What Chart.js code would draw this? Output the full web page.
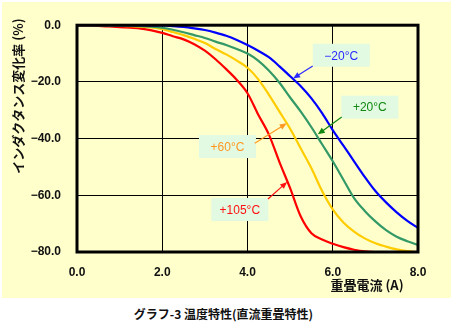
<!DOCTYPE html>
<html lang="ja">
<head>
<meta charset="utf-8">
<title>温度特性(直流重畳特性)</title>
<script src="https://cdn.jsdelivr.net/npm/chart.js@4.4.1/dist/chart.umd.min.js"></script>
<style>
  html, body { margin: 0; padding: 0; background: #fff; }
  body { width: 453px; height: 329px; position: relative; overflow: hidden; }
  #panel { position: absolute; left: 2px; top: 2px; width: 449px; height: 296px; background: #ffffcc; }
  #caption {
    position: absolute; left: 0; width: 447px; top: 305px; text-align: center;
    font: bold 12px "Noto Sans CJK JP", sans-serif; color: #111;
  }
</style>
</head>
<body>
<div id="panel"><canvas id="chart" width="449" height="296"></canvas></div>
<div id="caption">グラフ-3 温度特性(直流重畳特性)</div>
<script>
// superimposed DC current (A) vs. inductance change (%), one curve per temperature
const currentA = [0, 0.25, 0.5, 0.75, 1, 1.25, 1.5, 1.75, 2, 2.25, 2.5, 2.75, 3, 3.25, 3.5, 3.75,
                  4, 4.25, 4.5, 4.75, 5, 5.25, 5.5, 5.75, 6, 6.25, 6.5, 6.75, 7, 7.25, 7.5, 7.75, 8];
const minus20 = [0, 0, 0, 0, 0, 0, 0, -0.05, -0.1, -0.3, -0.6, -1.1, -1.7, -2.6, -3.7, -5.2,
                 -7, -9, -11.3, -14.5, -18, -21.5, -25.8, -31, -37, -42.5, -48, -53.5, -58.5, -62.5, -66, -69, -71.5];
const plus20  = [0, 0, 0, -0.05, -0.1, -0.2, -0.3, -0.5, -0.9, -1.6, -2.5, -3.5, -4.5, -5.8, -7, -8.4,
                 -10, -12.5, -16, -20.3, -25.5, -30.5, -36, -42, -48, -54.5, -61, -65.5, -69.2, -72.3, -74.6, -76.2, -77.5];
const plus60  = [0, 0, 0, -0.1, -0.2, -0.35, -0.5, -0.8, -1.4, -2.4, -3.5, -4.8, -6.3, -8.4, -10.3, -12.5,
                 -15, -19, -24.5, -30.5, -36.5, -43.5, -50.5, -58.5, -65, -69.6, -72.8, -75.2, -76.9, -78.1, -79.1, -79.7, -80];
const plus105 = [0, -0.1, -0.25, -0.45, -0.65, -0.9, -1.2, -1.8, -2.7, -3.9, -5.0, -6.7, -9, -12, -15.5, -19.3,
                 -24, -31.5, -38.5, -48.3, -57.5, -67.5, -73.4, -75.6, -77.1, -78.3, -79.2, -79.8, -80, -80, -80, -80, -80];

const seriesNames  = ['−20°C', '+20°C', '+60°C', '+105°C'];
const seriesValues = [minus20, plus20, plus60, plus105];
const lineColors   = ['#0000ff', '#339966', '#ffcc00', '#ff0000'];
const textColors   = ['#2a2aff', '#118811', '#ff9922', '#ff1111'];

const xTicks = [0, 2, 4, 6, 8];
const yTicks = [0, -20, -40, -60, -80];

// callout boxes (center) and arrows (tail -> tip), in data units
const callouts = [
  { box: [6.2, -10.6],  tail: [5.53, -14.4], tip: [5.07, -18.8] },
  { box: [6.87, -28.9], tail: [6.21, -32.4], tip: [5.65, -38.5] },
  { box: [3.53, -42.8], tail: [4.17, -41.6], tip: [4.92, -34.6] },
  { box: [3.82, -65.0], tail: [4.48, -61.3], tip: [4.93, -55.3] },
];

const fmt = v => (v < 0 ? '−' + Math.abs(v).toFixed(1) : v.toFixed(1));

const framePlugin = {
  id: 'frame',
  afterDatasetsDraw(chart) {
    const { ctx, chartArea: a } = chart;
    ctx.save();
    ctx.strokeStyle = '#000';
    ctx.lineWidth = 3;
    ctx.strokeRect(a.left, a.top, a.right - a.left, a.bottom - a.top);
    ctx.restore();
  }
};

const calloutPlugin = {
  id: 'callouts',
  afterDraw(chart) {
    const { ctx } = chart;
    const xs = chart.scales.x, ys = chart.scales.y;
    const px = p => [xs.getPixelForValue(p[0]), ys.getPixelForValue(p[1])];
    ctx.save();
    callouts.forEach((c, i) => {
      const [bx, by] = px(c.box);
      ctx.fillStyle = '#e2f9e2';
      ctx.fillRect(bx - 28.5, by - 11.5, 57, 23);
      ctx.font = '12px "Liberation Sans", Arial, sans-serif';
      ctx.fillStyle = textColors[i];
      ctx.textAlign = 'center';
      ctx.textBaseline = 'middle';
      ctx.fillText(seriesNames[i], bx, by + 1);

      // arrow
      const [tx, ty] = px(c.tail);
      const [hx, hy] = px(c.tip);
      const ang = Math.atan2(hy - ty, hx - tx);
      ctx.strokeStyle = textColors[i];
      ctx.lineWidth = 1.2;
      ctx.beginPath();
      ctx.moveTo(tx, ty);
      ctx.lineTo(hx - 4 * Math.cos(ang), hy - 4 * Math.sin(ang));
      ctx.stroke();
      ctx.beginPath();
      ctx.moveTo(hx, hy);
      ctx.lineTo(hx - 7 * Math.cos(ang) + 3 * Math.sin(ang), hy - 7 * Math.sin(ang) - 3 * Math.cos(ang));
      ctx.lineTo(hx - 7 * Math.cos(ang) - 3 * Math.sin(ang), hy - 7 * Math.sin(ang) + 3 * Math.cos(ang));
      ctx.closePath();
      ctx.fillStyle = textColors[i];
      ctx.fill();
    });

    // axis titles
    ctx.fillStyle = '#111';
    ctx.font = 'bold 13px "Noto Sans CJK JP", sans-serif';
    ctx.textAlign = 'center';
    ctx.textBaseline = 'middle';
    ctx.fillText('重畳電流 (A)', 365, 283);
    ctx.translate(16, 94);
    ctx.rotate(-Math.PI / 2);
    ctx.fillText('インダクタンス変化率 (%)', 0, 0);
    ctx.restore();
  }
};

new Chart(document.getElementById('chart'), {
  type: 'line',
  data: {
    datasets: seriesValues.map((vals, i) => ({
      label: seriesNames[i],
      data: currentA.map((x, j) => ({ x, y: vals[j] })),
      borderColor: lineColors[i],
      borderWidth: 2.2,
      pointRadius: 0,
      cubicInterpolationMode: 'monotone',
      fill: false,
    })),
  },
  options: {
    responsive: false,
    animation: false,
    layout: { padding: { left: 0, top: 23, right: 33, bottom: 0 } },
    plugins: { legend: { display: false }, tooltip: { enabled: false } },
    scales: {
      x: {
        type: 'linear', min: 0, max: 8,
        afterBuildTicks: s => { s.ticks = xTicks.map(v => ({ value: v })); },
        afterFit: s => { s.height = 46; },
        grid: { color: '#000', lineWidth: 1, drawTicks: false },
        border: { display: false },
        ticks: {
          padding: 13, color: '#111', maxRotation: 0,
          font: { family: '"Liberation Sans", Arial, sans-serif', size: 12, weight: 'bold' },
          callback: v => fmt(v),
        },
      },
      y: {
        type: 'linear', min: -80, max: 0,
        afterBuildTicks: s => { s.ticks = yTicks.map(v => ({ value: v })); },
        afterFit: s => { s.width = 75; },
        grid: { color: '#000', lineWidth: 1, drawTicks: false },
        border: { display: false },
        ticks: {
          padding: 16, color: '#111',
          font: { family: '"Liberation Sans", Arial, sans-serif', size: 12, weight: 'bold' },
          callback: v => fmt(v),
        },
      },
    },
  },
  plugins: [framePlugin, calloutPlugin],
});
</script>
</body>
</html>
